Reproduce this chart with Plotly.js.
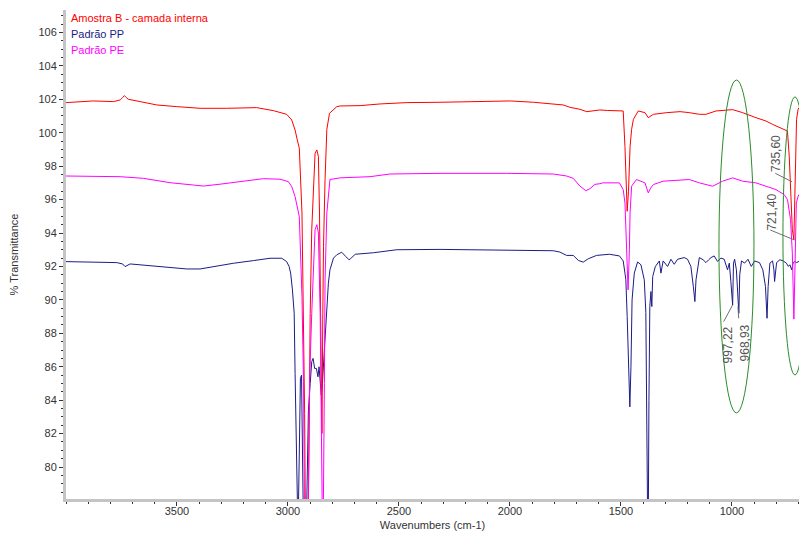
<!DOCTYPE html>
<html>
<head>
<meta charset="utf-8">
<script src="https://cdn.plot.ly/plotly-3.0.1.min.js"></script>
<style>
  html, body { margin: 0; padding: 0; background: #ffffff; }
  #chart { width: 799px; height: 538px; }
</style>
</head>
<body>
<div id="chart"></div>
<script>
// ---- Data (wavenumber in cm-1, % transmittance) ----
const seriesNames = ["Amostra B - camada interna", "Padrão PP", "Padrão PE"];

const wnRed = [
4000,3950,3877,3786,3756,3745,3737,3728,3719,3666,
3591,3501,3396,3276,3141,3066,3006,2983,2968,2958,
2949,2937,2930,2925,2920,2912,2906,2900,2893,2885,
2878,2870,2863,2858,2852,2847,2843,2840,2833,2825,
2813,2780,2765,2675,2585,2465,2315,2165,1999,1894,
1805,1760,1730,1685,1654,1625,1595,1560,1507,1490,
1482,1476,1472,1466,1459,1452,1444,1422,1392,1377,
1366,1354,1294,1234,1192,1147,1117,1072,997,952,
892,847,817,765,750,742,736,731,728,721,
715,709,702,698];
const tRed = [
101.80,101.85,101.90,101.86,101.96,102.10,102.22,102.10,102.00,101.86,
101.66,101.56,101.46,101.46,101.50,101.32,101.10,100.76,100.16,99.57,
99.07,95.2,89.2,83.2,74.0,74.0,80.0,89.2,94.2,97.2,
98.77,98.97,98.57,95.2,89.2,82.0,89.2,93.2,97.2,100.2,
101.16,101.56,101.60,101.62,101.72,101.80,101.82,101.84,101.90,101.82,
101.72,101.66,101.52,101.40,101.26,101.30,101.36,101.33,101.30,101.30,
99.17,97.17,95.3,96.5,99.17,100.2,100.8,101.3,101.2,100.9,
101.0,101.1,101.2,101.26,101.2,101.1,101.1,101.3,101.38,101.2,
100.9,100.7,100.5,100.2,100.1,98.6,97.0,95.5,94.2,93.6,
97.8,100.8,101.4,101.5];

const wnPP = [
4000,3771,3745,3734,3711,3636,3546,3456,3396,3336,
3246,3156,3081,3028,3006,2995,2988,2980,2972,2968,
2964,2960,2955,2950,2944,2939,2935,2930,2918,2912,
2908,2900,2893,2887,2880,2872,2865,2860,2855,2850,
2845,2838,2833,2825,2818,2811,2795,2780,2758,2740,
2725,2718,2705,2697,2615,2510,2315,2015,1805,1775,
1745,1715,1692,1670,1647,1610,1552,1507,1490,1482,
1478,1472,1467,1460,1455,1450,1440,1425,1410,1395,
1388,1384,1378,1374,1370,1365,1361,1357,1345,1327,
1320,1310,1290,1275,1260,1245,1215,1200,1185,1174,
1167,1162,1155,1147,1130,1117,1105,1094,1080,1065,
1050,1035,1020,1012,1005,997,993,988,980,974,
969,965,957,943,928,913,898,876,861,849,
842,837,829,817,811,808,803,799,784,769,
755,746,739,731,724,717,710,698];
const tPP = [
92.29,92.23,92.15,91.99,92.15,92.05,91.93,91.85,91.85,91.99,
92.19,92.35,92.49,92.49,92.29,92.0,91.6,90.6,89.2,85.6,
81.0,76.0,76.0,80.0,85.3,85.5,82.0,76.0,76.0,80.0,
83.4,85.0,86.3,86.5,85.9,85.9,85.4,86.0,85.0,84.3,
85.0,86.5,87.3,89.6,91.0,91.8,92.5,92.7,92.85,92.6,
92.4,92.47,92.65,92.73,92.82,93.0,93.02,92.98,92.94,92.86,
92.66,92.66,92.36,92.26,92.46,92.66,92.73,92.63,92.33,91.6,
91.2,89.0,86.3,83.6,86.0,90.0,91.6,92.27,92.1,91.2,
89.25,84.0,74.0,84.0,89.6,90.5,89.6,91.4,92.0,92.33,
91.6,92.33,92.0,92.43,92.13,92.43,92.53,92.43,92.0,90.8,
89.9,91.2,92.0,92.53,92.4,92.23,92.4,92.53,92.63,92.3,
92.5,92.43,91.8,92.2,91.1,89.7,92.2,92.43,91.8,90.2,
89.2,91.5,92.33,92.2,92.43,92.0,92.33,92.23,91.8,90.8,
88.9,90.8,92.2,92.33,91.8,91.1,92.0,92.23,92.4,92.33,
92.2,92.0,92.1,91.8,92.23,92.3,92.23,92.3];

const wnPE = [
4000,3756,3651,3531,3426,3381,3306,3201,3111,3036,
2998,2983,2968,2949,2937,2930,2924,2912,2903,2893,
2885,2878,2870,2863,2855,2850,2843,2836,2833,2825,
2811,2765,2630,2541,2315,2015,1805,1745,1715,1685,
1658,1640,1617,1595,1582,1507,1490,1482,1474,1468,
1462,1459,1452,1430,1392,1377,1366,1354,1310,1192,
1147,1087,1042,997,952,892,847,802,765,750,
736,728,721,716,710,702,698];
const tPE = [
97.41,97.37,97.27,97.01,96.87,96.81,96.92,97.11,97.25,97.22,
97.07,96.77,96.18,94.98,90.2,85.1,74.0,74.0,85.1,89.2,
92.2,94.2,94.5,94.0,89.2,74.0,74.0,85.0,91.2,95.2,
97.2,97.3,97.37,97.53,97.57,97.57,97.53,97.41,97.27,96.81,
96.53,96.65,96.91,96.95,97.0,97.0,96.6,95.8,93.2,90.6,
93.0,95.2,96.8,97.2,97.0,96.4,96.7,96.9,97.1,97.2,
97.0,96.8,97.1,97.3,97.1,97.0,96.8,96.6,96.3,96.0,
94.8,92.8,88.85,92.5,95.8,96.2,96.3];

const xTickVals = [3500, 3000, 2500, 2000, 1500, 1000];
const yTickVals = [80, 82, 84, 86, 88, 90, 92, 94, 96, 98, 100, 102, 104, 106];
const peakLabels = ["997,22", "968,93", "721,40", "735,60"];
const seriesColors = ["#ff0000", "#1c1c86", "#ff00ff"];

// ---- Build chart ----
const FONT = 'Arial, "Liberation Sans", sans-serif';
const traces = [
  { x: wnPP, y: tPP, name: seriesNames[1], line: { color: seriesColors[1], width: 1 } },
  { x: wnRed, y: tRed, name: seriesNames[0], line: { color: seriesColors[0], width: 1 } },
  { x: wnPE, y: tPE, name: seriesNames[2], line: { color: seriesColors[2], width: 1 } }
].map(t => Object.assign({ type: "scatter", mode: "lines", hoverinfo: "skip" }, t));

const legendOrder = [0, 1, 2];
const annotations = legendOrder.map((i, k) => ({
  xref: "paper", yref: "paper", x: 0, y: 1, xshift: 3, yshift: -8 - 16 * k,
  xanchor: "left", yanchor: "middle", showarrow: false,
  text: seriesNames[i], font: { family: FONT, size: 11, color: seriesColors[i] }
}));

const labelPos = [
  { x: 1015.8, y: 87.30 },
  { x: 941.5, y: 87.45 },
  { x: 819.9, y: 95.28 },
  { x: 798.7, y: 98.77 }
];
peakLabels.forEach((txt, i) => {
  annotations.push({
    xref: "x", yref: "y", x: labelPos[i].x, y: labelPos[i].y,
    text: txt, textangle: -90, showarrow: false,
    font: { family: FONT, size: 12, color: "#555555" }
  });
});

const leaders = [
  [1037.4, 88.70, 996.8, 89.70],
  [969.8, 88.90, 973.0, 89.60],
  [827.5, 94.18, 717.6, 93.58],
  [805.0, 97.57, 729.8, 97.07]
];
const shapes = [
  { type: "circle", xref: "x", yref: "y", x0: 1058.5, x1: 900.9, y0: 83.24, y1: 103.15,
    line: { color: "#2a8c2a", width: 1 } },
  { type: "circle", xref: "x", yref: "y", x0: 770.3, x1: 662, y0: 85.51, y1: 102.14,
    line: { color: "#2a8c2a", width: 1 } }
].concat(leaders.map(l => ({
  type: "line", xref: "x", yref: "y", x0: l[0], y0: l[1], x1: l[2], y1: l[3],
  line: { color: "#707070", width: 1 }
})));

const axisCommon = {
  showgrid: false, zeroline: false, showline: true,
  linecolor: "#c4c4c4", linewidth: 3,
  ticks: "outside", ticklen: 4, tickwidth: 1, tickcolor: "#333333",
  tickfont: { family: FONT, size: 11, color: "#333333" },
  autorange: false
};

const layout = {
  width: 799, height: 538,
  margin: { l: 66, r: 0, t: 10, b: 39, pad: 0 },
  paper_bgcolor: "#ffffff", plot_bgcolor: "#ffffff",
  showlegend: false,
  font: { family: FONT, size: 11, color: "#333333" },
  xaxis: Object.assign({}, axisCommon, {
    range: [4000, 698], tickmode: "array", tickvals: xTickVals,
    ticklabelstandoff: -4,
    minor: { dtick: 100, tick0: 0, ticks: "outside", ticklen: 2, tickcolor: "#333333", showgrid: false },
    title: { text: "Wavenumbers (cm-1)", font: { family: FONT, size: 11, color: "#333333" }, standoff: 6 }
  }),
  yaxis: Object.assign({}, axisCommon, {
    range: [78.09, 107.34], tickmode: "array", tickvals: yTickVals,
    minor: { dtick: 0.5, tick0: 0, ticks: "outside", ticklen: 2, tickcolor: "#333333", showgrid: false },
    title: { text: "% Transmittance", font: { family: FONT, size: 11, color: "#333333" }, standoff: 18 }
  }),
  annotations: annotations,
  shapes: shapes
};

Plotly.newPlot("chart", traces, layout, { displayModeBar: false, staticPlot: true });
</script>
</body>
</html>
